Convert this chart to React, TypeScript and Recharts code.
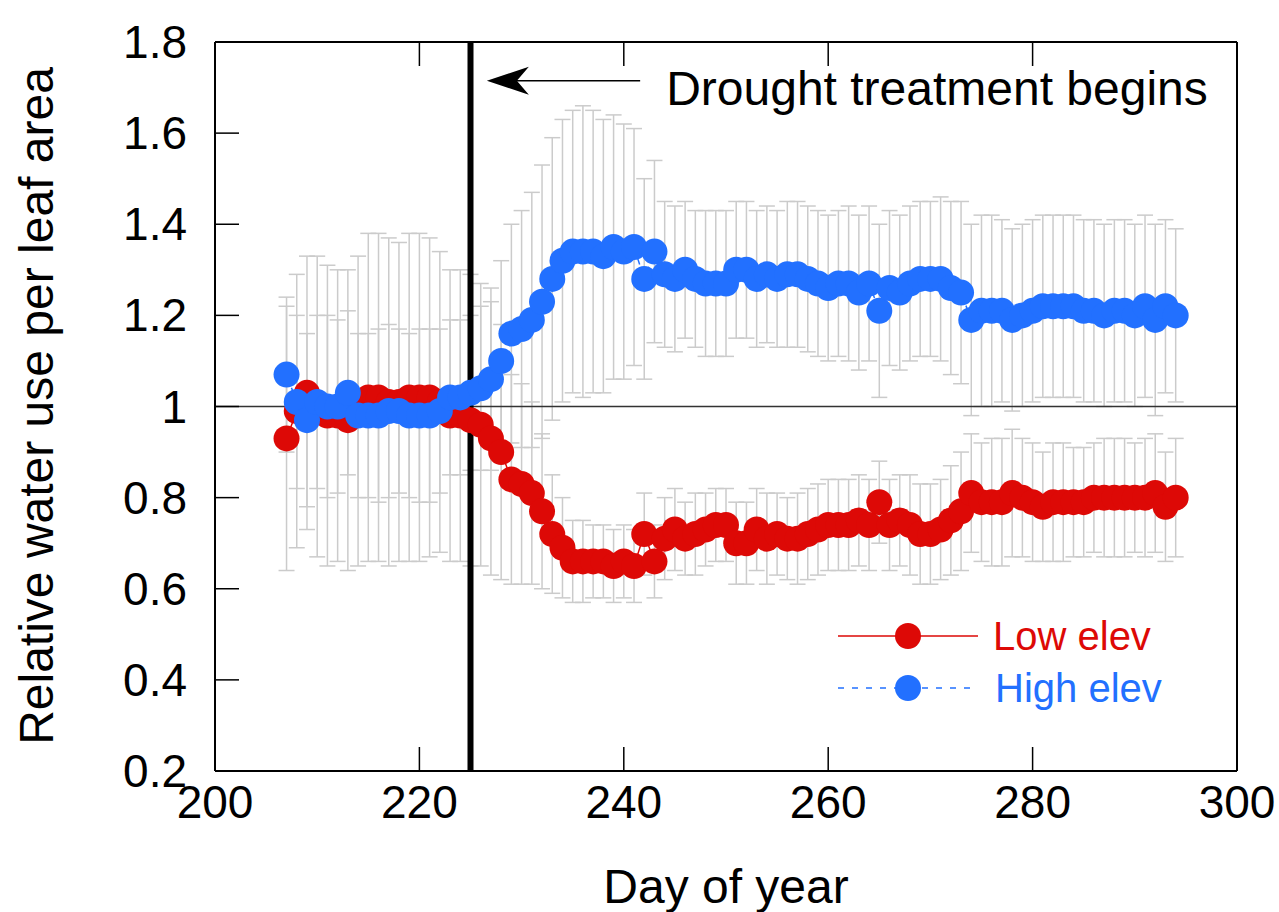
import { ComposedChart, Line, XAxis, YAxis, ErrorBar, ReferenceLine, Legend } from "recharts"

const FONT = '"Liberation Sans", Arial, Helvetica, sans-serif'
const RED = "#dd0906"
const BLUE = "#2270ff"
const BAR_GREY = "#cbcbcb"

// day of year, one reading per day
const days = [
  207, 208, 209, 210, 211, 212, 213, 214, 215, 216,
  217, 218, 219, 220, 221, 222, 223, 224, 225, 226,
  227, 228, 229, 230, 231, 232, 233, 234, 235, 236,
  237, 238, 239, 240, 241, 242, 243, 244, 245, 246,
  247, 248, 249, 250, 251, 252, 253, 254, 255, 256,
  257, 258, 259, 260, 261, 262, 263, 264, 265, 266,
  267, 268, 269, 270, 271, 272, 273, 274, 275, 276,
  277, 278, 279, 280, 281, 282, 283, 284, 285, 286,
  287, 288, 289, 290, 291, 292, 293, 294,
]

const lowElev = [
  0.93, 0.99, 1.03, 1.0, 0.98, 0.98, 0.97, 0.99, 1.02, 1.02,
  1.01, 1.01, 1.02, 1.02, 1.02, 1.01, 0.98, 0.98, 0.97, 0.96,
  0.93, 0.9, 0.84, 0.83, 0.81, 0.77, 0.72, 0.69, 0.66, 0.66,
  0.66, 0.66, 0.65, 0.66, 0.65, 0.72, 0.66, 0.71, 0.73, 0.71,
  0.72, 0.73, 0.74, 0.74, 0.7, 0.7, 0.73, 0.71, 0.72, 0.71,
  0.71, 0.72, 0.73, 0.74, 0.74, 0.74, 0.75, 0.74, 0.79, 0.74,
  0.75, 0.74, 0.72, 0.72, 0.73, 0.75, 0.77, 0.81, 0.79, 0.79,
  0.79, 0.81, 0.8, 0.79, 0.78, 0.79, 0.79, 0.79, 0.79, 0.8,
  0.8, 0.8, 0.8, 0.8, 0.8, 0.81, 0.78, 0.8,
]

const lowElevErr = [
  0.29, 0.3, 0.3, 0.33, 0.33, 0.32, 0.33, 0.34, 0.36, 0.36,
  0.36, 0.35, 0.36, 0.36, 0.35, 0.33, 0.32, 0.32, 0.32, 0.31,
  0.3, 0.28, 0.23, 0.22, 0.2, 0.17, 0.13, 0.11, 0.09, 0.09,
  0.08, 0.08, 0.08, 0.08, 0.08, 0.09, 0.08, 0.09, 0.09, 0.08,
  0.09, 0.08, 0.08, 0.08, 0.09, 0.09, 0.09, 0.1, 0.09, 0.09,
  0.1, 0.1, 0.1, 0.1, 0.1, 0.1, 0.1, 0.1, 0.09, 0.1,
  0.1, 0.11, 0.11, 0.11, 0.11, 0.12, 0.13, 0.13, 0.13, 0.14,
  0.14, 0.14, 0.13, 0.13, 0.12, 0.13, 0.13, 0.12, 0.12, 0.12,
  0.13, 0.13, 0.13, 0.12, 0.13, 0.13, 0.12, 0.13,
]

const highElev = [
  1.07, 1.01, 0.97, 1.01, 1.0, 1.0, 1.03, 0.98, 0.98, 0.98,
  0.99, 0.99, 0.98, 0.98, 0.98, 0.99, 1.02, 1.02, 1.03, 1.04,
  1.06, 1.1, 1.16, 1.17, 1.19, 1.23, 1.28, 1.32, 1.34, 1.34,
  1.34, 1.33, 1.35, 1.34, 1.35, 1.28, 1.34, 1.29, 1.28, 1.3,
  1.28, 1.27, 1.27, 1.27, 1.3, 1.3, 1.28, 1.29, 1.28, 1.29,
  1.29, 1.28, 1.27, 1.26, 1.27, 1.27, 1.25, 1.27, 1.21, 1.26,
  1.25, 1.27, 1.28, 1.28, 1.28, 1.26, 1.25, 1.19, 1.21, 1.21,
  1.21, 1.19, 1.2, 1.21, 1.22, 1.22, 1.22, 1.22, 1.21, 1.21,
  1.2, 1.21, 1.21, 1.2, 1.22, 1.19, 1.22, 1.2,
]

const highElevErr = [
  0.17, 0.19, 0.19, 0.19, 0.2, 0.19, 0.18, 0.18, 0.18, 0.19,
  0.19, 0.18, 0.18, 0.19, 0.19, 0.18, 0.17, 0.17, 0.17, 0.18,
  0.2, 0.22, 0.24, 0.26, 0.28, 0.3, 0.31, 0.31, 0.31, 0.32,
  0.31, 0.3, 0.29, 0.28, 0.26, 0.22, 0.2, 0.16, 0.16, 0.15,
  0.15, 0.16, 0.16, 0.16, 0.15, 0.15, 0.15, 0.15, 0.15, 0.16,
  0.16, 0.16, 0.16, 0.16, 0.16, 0.17, 0.17, 0.17, 0.19, 0.17,
  0.17, 0.17, 0.17, 0.17, 0.18, 0.19, 0.2, 0.21, 0.21, 0.21,
  0.2, 0.2, 0.2, 0.2, 0.2, 0.2, 0.2, 0.2, 0.2, 0.2,
  0.2, 0.2, 0.2, 0.2, 0.2, 0.21, 0.19, 0.19,
]

const xTicks = [200, 220, 240, 260, 280, 300]
const yTicks = [0.2, 0.4, 0.6, 0.8, 1, 1.2, 1.4, 1.6, 1.8]
const treatmentDay = 225
const arrowStart = { x: 226.6, y: 1.715 }
const arrowEnd = { x: 241.6, y: 1.715 }

const rows = days.map((day, i) => ({
  day,
  low: lowElev[i],
  lowErr: lowElevErr[i],
  high: highElev[i],
  highErr: highElevErr[i],
}))

const TICK_LEN = 24

const BottomTick = ({ x, y, payload }: any) => (
  <g>
    <line x1={x} x2={x} y1={y} y2={y - TICK_LEN} stroke="#000" strokeWidth={1.5} />
    <text x={x} y={y + 47} textAnchor="middle" fontSize={46} fontFamily={FONT} fill="#000">
      {payload.value}
    </text>
  </g>
)

const TopTick = ({ x, y }: any) => (
  <line x1={x} x2={x} y1={y} y2={y + TICK_LEN} stroke="#000" strokeWidth={1.5} />
)

const LeftTick = ({ x, y, payload }: any) => (
  <g>
    <line x1={x} x2={x + TICK_LEN} y1={y} y2={y} stroke="#000" strokeWidth={1.5} />
    <text x={x - 28} y={y + 16} textAnchor="end" fontSize={46} fontFamily={FONT} fill="#000">
      {String(payload.value)}
    </text>
  </g>
)

const RightTick = ({ x, y }: any) => (
  <line x1={x} x2={x - TICK_LEN} y1={y} y2={y} stroke="#000" strokeWidth={1.5} />
)

const ArrowNote = (p: any) => {
  const tip = Math.min(p.x1, p.x2)
  const end = Math.max(p.x1, p.x2)
  const y = p.y1
  return (
    <g>
      <line x1={tip + 20} x2={end} y1={y} y2={y} stroke="#000" strokeWidth={1.5} />
      <path d={`M${tip},${y} L${tip + 42},${y - 14} L${tip + 30},${y} L${tip + 42},${y + 14} Z`} fill="#000" />
      <text x={end + 26} y={y + 24} fontSize={48} fontFamily={FONT} fill="#000">
        Drought treatment begins
      </text>
    </g>
  )
}

const LegendBox = () => (
  <svg width={380} height={110} style={{ display: "block" }}>
    <line x1={8} x2={148} y1={36} y2={36} stroke={RED} strokeWidth={1.5} />
    <circle cx={78} cy={36} r={13} fill={RED} />
    <text x={163} y={50} fontSize={40} fontFamily={FONT} fill={RED}>
      Low elev
    </text>
    <line x1={8} x2={148} y1={88} y2={88} stroke={BLUE} strokeWidth={1.5} strokeDasharray="6 8" />
    <circle cx={78} cy={88} r={13} fill={BLUE} />
    <text x={165} y={102} fontSize={40} fontFamily={FONT} fill={BLUE}>
      High elev
    </text>
  </svg>
)

export default function App() {
  return (
    <div style={{ position: "absolute", left: 0, top: 0 }}>
      <ComposedChart width={1279} height={912} data={rows} margin={{ top: 41, right: 41, left: 115, bottom: 41 }}>
        <XAxis
          dataKey="day"
          type="number"
          domain={[200, 300]}
          ticks={xTicks}
          interval={0}
          height={100}
          tickSize={0}
          tickMargin={0}
          tickLine={false}
          tick={(p: any) => <BottomTick {...p} />}
          axisLine={{ stroke: "#000", strokeWidth: 2 }}
          label={{
            content: () => (
              <text x={726} y={903} textAnchor="middle" fontSize={48} fontFamily={FONT} fill="#000">
                Day of year
              </text>
            ),
          }}
        />
        <XAxis
          xAxisId="top"
          orientation="top"
          dataKey="day"
          type="number"
          domain={[200, 300]}
          ticks={xTicks}
          interval={0}
          height={1}
          tickSize={0}
          tickMargin={0}
          tickLine={false}
          tick={(p: any) => <TopTick {...p} />}
          axisLine={{ stroke: "#000", strokeWidth: 2 }}
        />
        <YAxis
          type="number"
          domain={[0.2, 1.8]}
          ticks={yTicks}
          interval={0}
          width={100}
          tickSize={0}
          tickMargin={0}
          tickLine={false}
          tick={(p: any) => <LeftTick {...p} />}
          axisLine={{ stroke: "#000", strokeWidth: 2 }}
          label={{
            content: () => (
              <text
                transform="translate(53, 406) rotate(-90)"
                textAnchor="middle"
                fontSize={48}
                fontFamily={FONT}
                fill="#000"
              >
                Relative water use per leaf area
              </text>
            ),
          }}
        />
        <YAxis
          yAxisId="right"
          orientation="right"
          type="number"
          domain={[0.2, 1.8]}
          ticks={yTicks}
          interval={0}
          width={1}
          tickSize={0}
          tickMargin={0}
          tickLine={false}
          tick={(p: any) => <RightTick {...p} />}
          axisLine={{ stroke: "#000", strokeWidth: 2 }}
        />

        {/* error bars first so every dot sits on top of them */}
        <Line dataKey="low" stroke="none" dot={false} activeDot={false} legendType="none" isAnimationActive={false}>
          <ErrorBar dataKey="lowErr" direction="y" width={8} stroke={BAR_GREY} strokeWidth={1.5} isAnimationActive={false} />
        </Line>
        <Line dataKey="high" stroke="none" dot={false} activeDot={false} legendType="none" isAnimationActive={false}>
          <ErrorBar dataKey="highErr" direction="y" width={8} stroke={BAR_GREY} strokeWidth={1.5} isAnimationActive={false} />
        </Line>

        <Line
          name="Low elev"
          dataKey="low"
          type="linear"
          stroke={RED}
          strokeWidth={1.5}
          dot={{ r: 13, fill: RED, stroke: RED, strokeWidth: 0 }}
          activeDot={false}
          isAnimationActive={false}
        />
        <Line
          name="High elev"
          dataKey="high"
          type="linear"
          stroke={BLUE}
          strokeWidth={1.5}
          strokeDasharray="6 8"
          dot={{ r: 13, fill: BLUE, stroke: BLUE, strokeWidth: 0 }}
          activeDot={false}
          isAnimationActive={false}
        />

        <ReferenceLine y={1} stroke="#333" strokeWidth={1.5} />
        <ReferenceLine x={treatmentDay} stroke="#000" strokeWidth={6} />
        <ReferenceLine segment={[arrowStart, arrowEnd]} shape={(p: any) => <ArrowNote {...p} />} />

        <Legend
          layout="horizontal"
          align="center"
          verticalAlign="middle"
          content={() => <LegendBox />}
          wrapperStyle={{ left: 830, top: 600, width: 380, height: 110 }}
        />
      </ComposedChart>
    </div>
  )
}
